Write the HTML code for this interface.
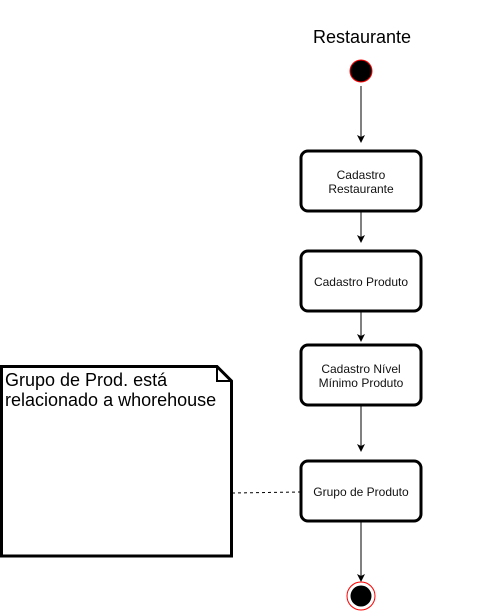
<!DOCTYPE html>
<html><head><style>html,body{margin:0;padding:0;background:#fff;width:483px;height:612px;overflow:hidden}svg{display:block}</style></head><body>
<svg width="483" height="612" xmlns="http://www.w3.org/2000/svg" font-family="Liberation Sans, sans-serif">
<defs><marker id="a" markerWidth="8" markerHeight="8" refX="7" refY="4" orient="auto" markerUnits="userSpaceOnUse"><path d="M0,0 L8,4 L0,8 L2,4 Z" fill="#000"/></marker></defs>
<text x="362" y="43" font-size="18" text-anchor="middle">Restaurante</text>
<circle cx="361" cy="71" r="11" fill="#000" stroke="#f00" stroke-width="1"/>
<g stroke="#000" stroke-width="1" marker-end="url(#a)">
<line x1="361" y1="86" x2="361" y2="142"/>
<line x1="361" y1="212" x2="361" y2="242"/>
<line x1="361" y1="312" x2="361" y2="341"/>
<line x1="361" y1="406" x2="361" y2="451"/>
<line x1="361" y1="522" x2="361" y2="581"/>
</g>
<g fill="#fff" stroke="#000" stroke-width="3">
<rect x="301" y="151" width="120" height="60" rx="7"/>
<rect x="301" y="251" width="120" height="60" rx="7"/>
<rect x="301" y="345" width="120" height="60" rx="7"/>
<rect x="301" y="461" width="120" height="60" rx="7"/>
<path d="M1.5,366.5 H217 L231.5,381 V556 H1.5 Z"/>
</g>
<path d="M217,366.5 V381 H231.5" fill="none" stroke="#000" stroke-width="2"/>
<line x1="232" y1="493" x2="301" y2="492" stroke="#000" stroke-dasharray="3,3"/>
<g font-size="12" text-anchor="middle" fill="#111">
<text x="361" y="179">Cadastro</text><text x="361" y="193">Restaurante</text>
<text x="361" y="286">Cadastro Produto</text>
<text x="361" y="373">Cadastro Nível</text><text x="361" y="387">Mínimo Produto</text>
<text x="361" y="496">Grupo de Produto</text>
</g>
<text x="5" y="386" font-size="18">Grupo de Prod. está</text>
<text x="5" y="406" font-size="18">relacionado a whorehouse</text>
<circle cx="361" cy="596" r="14" fill="#fff" stroke="#f00" stroke-width="1"/>
<circle cx="361" cy="596" r="10.5" fill="#000"/>
</svg>
</body></html>
